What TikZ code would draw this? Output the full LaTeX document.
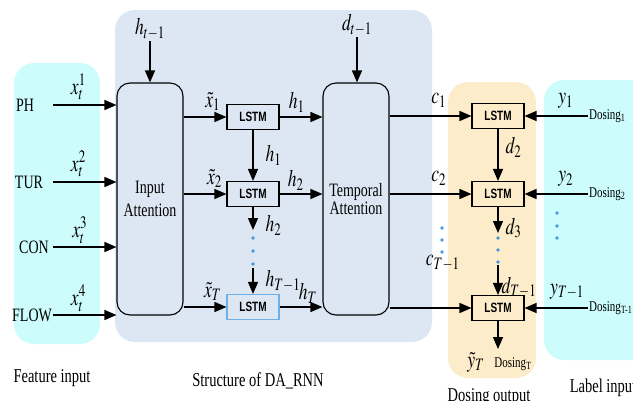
\documentclass[tikz,border=0pt]{standalone}
\usepackage{mathptmx}
\usepackage{fontspec}
\setmainfont{Liberation Serif}
\setsansfont{Liberation Sans}
\usetikzlibrary{arrows.meta}
\definecolor{mycyan}{RGB}{204,252,252}
\definecolor{myblue}{RGB}{221,231,243}
\definecolor{myorange}{RGB}{252,236,202}
\definecolor{mydotblue}{RGB}{72,150,222}
\definecolor{myboxblue}{RGB}{110,175,232}
\newcommand{\tall}[1]{\scalebox{1}[1.35]{#1}}
\newcommand{\fs}[1]{\fontsize{#1}{#1}\selectfont}
\tikzset{
    region/.style={rounded corners=20pt},
    att/.style={draw, line width=1.1pt, rounded corners=13pt, minimum width=66pt, minimum height=232pt, align=center, font=\fs{14}},
    lstm/.style={draw, line width=1.1pt, minimum width=52pt, minimum height=25pt, inner sep=0pt, font=\sffamily\bfseries\fs{10}},
    feat/.style={font=\fs{14}, yscale=1.35, inner sep=1pt},
    lab/.style={font=\fs{17.5}, yscale=1.35, inner sep=1pt},
    dosing/.style={font=\fs{11}, yscale=1.35, inner sep=1pt, anchor=west},
    caption/.style={font=\fs{14.5}, yscale=1.35},
    arr/.style={line width=1.3pt, -{Triangle[length=12pt,width=10pt]}},
    dot/.style={fill=mydotblue}
}
\begin{document}
\begin{tikzpicture}[x=1pt, y=-1pt]
  \useasboundingbox (0,0) rectangle (633,400);
  \fill[mycyan, region] (14,63) rectangle (100,344);
  \fill[myblue, region] (115,10) rectangle (432,342);
  \fill[myorange, region] (448,82) rectangle (536,378);
  \fill[mycyan, region] (544,80) rectangle (660,360);

  \node[att] (inatt) at (150,199) {\tall{Input}\\[5pt]\tall{Attention}};
  \node[att] (tmpatt) at (356,199) {\tall{Temporal}\\[1pt]\tall{Attention}};

  \path (253,117) node[lstm] (enc1) {\tall{LSTM}}
      ++(0,77) node[lstm] (enc2) {\tall{LSTM}}
      ++(0,113) node[lstm, draw=myboxblue] (encT) {\tall{LSTM}};
  \path (498,116) node[lstm] (dec1) {\tall{LSTM}}
      ++(0,78) node[lstm] (dec2) {\tall{LSTM}}
      ++(0,114) node[lstm] (decT) {\tall{LSTM}};

  \node[feat] (ph) at (25,105) {PH};
  \node[feat] (tur) at (29,182) {TUR};
  \node[feat] (con) at (34,247) {CON};
  \node[feat] (flow) at (32,315) {FLOW};
  \draw[arr] (ph -| flow.east) -- node[lab, above=2pt, pos=0.4] {$x_t^1$} (ph -| inatt.west);
  \draw[arr] (tur -| flow.east) -- node[lab, above=2pt, pos=0.4] {$x_t^2$} (tur -| inatt.west);
  \draw[arr] (con -| flow.east) -- node[lab, above=1pt, pos=0.42] {$x_t^3$} (con -| inatt.west);
  \draw[arr] (flow.east) -- node[lab, above=1pt, pos=0.4] {$x_t^4$} (flow -| inatt.west);

  \node[lab] (hprev) at (150,29) {$h_{t-1}$};
  \node[lab] (dprev) at (357,25) {$d_{t-1}$};
  \draw[arr] (hprev.south) -- (hprev.south |- inatt.north);
  \draw[arr] (dprev.south) -- (dprev.south |- tmpatt.north);

  % encoder
  \draw[arr] (inatt.east |- enc1) -- node[lab, above=3pt, pos=0.68] {$\tilde{x}_1$} (enc1.west);
  \draw[arr] (inatt.east |- enc2) -- node[lab, above=3pt, pos=0.72] {$\tilde{x}_2$} (enc2.west);
  \draw[arr] (inatt.east |- encT) -- node[lab, above=3pt, pos=0.68] {$\tilde{x}_T$} (encT.west);
  \coordinate (e2end) at (253,230);
  \coordinate (e3start) at (253,268);
  \draw[arr] (enc1) -- node[lab, right=11pt] {$h_1$} (enc2);
  \draw[arr] (enc2) -- node[lab, right=11pt, pos=0.8] {$h_2$} (e2end);
  \draw[arr] (e3start) -- node[lab, right=11pt, pos=0.5] {$h_{T-1}$} (encT);
  \foreach \y in {238,251,264} \fill[dot] (253,\y) circle (1.8pt);
  \draw[arr] (enc1) -- node[lab, above=2pt, pos=0.4] {$h_1$} (enc1 -| tmpatt.west);
  \draw[arr] (enc2) -- node[lab, above=1pt, pos=0.38] {$h_2$} (enc2 -| tmpatt.west);
  \draw[arr] (encT) -- node[lab, above=1pt, pos=0.66] {$h_T$} (encT -| tmpatt.west);

  % decoder
  \draw[arr] (dec1 -| tmpatt.east) -- node[lab, above=5pt, pos=0.6] {$c_1$} (dec1);
  \draw[arr] (dec2 -| tmpatt.east) -- node[lab, above=5pt, pos=0.6] {$c_2$} (dec2);
  \draw[arr] (decT -| tmpatt.east) -- node[lab, above=26pt, pos=0.65] {$c_{T-1}$} (decT);
  \foreach \y in {228,240,252} \fill[dot] (442,\y) circle (1.8pt);
  \coordinate (d2end) at (498,233);
  \coordinate (d3start) at (498,265);
  \coordinate (dout) at (498,349);
  \draw[arr] (dec1) -- node[lab, right=6pt, pos=0.35] {$d_2$} (dec2);
  \draw[arr] (dec2) -- node[lab, right=6pt, pos=0.8] {$d_3$} (d2end);
  \draw[arr] (d3start) -- node[lab, right=2pt, pos=0.75] {$d_{T-1}$} (decT);
  \foreach \y in {238,250,262} \fill[dot] (498,\y) circle (1.8pt);
  \draw[arr] (decT) -- (dout);
  \node[lab] (yout) at (476,362) {$\tilde{y}_T$};
  \node[dosing, anchor=center] (dosT) at (513,364) {Dosing\textsubscript{T}};

  % label input
  \node[dosing] (dos1) at (588,116) {Dosing\textsubscript{1}};
  \node[dosing] (dos2) at (588,194) {Dosing\textsubscript{2}};
  \node[dosing] (dosTm) at (588,308) {Dosing\textsubscript{T-1}};
  \draw[arr] (dos1.west) -- node[lab, above=4pt, pos=0.35] {$y_1$} (dos1.west -| dec1.east);
  \draw[arr] (dos2.west) -- node[lab, above=4pt, pos=0.35] {$y_2$} (dos2.west -| dec2.east);
  \draw[arr] (dosTm.west) -- node[lab, above=5pt, pos=0.33] {$y_{T-1}$} (dosTm.west -| decT.east);
  \foreach \y in {213,226,238} \fill[dot] (557,\y) circle (1.8pt);

  \node[caption] (capfeat) at (52,378) {Feature input};
  \node[caption] (capdarnn) at (258,381) {Structure of DA\_RNN};
  \node[caption] (capdos) at (489,397) {Dosing output};
  \node[caption] (caplab) at (603,388) {Label input};
\end{tikzpicture}
\end{document}
